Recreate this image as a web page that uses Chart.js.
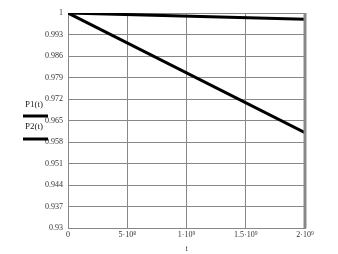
<!DOCTYPE html>
<html>
<head>
<meta charset="utf-8">
<script src="https://cdn.jsdelivr.net/npm/chart.js@4"></script>
<style>
    html, body { margin: 0; padding: 0; background: #fff; }
    #wrap { width: 338px; height: 254px; position: relative; }
</style>
</head>
<body>
<div id="wrap"><canvas id="chart" width="338" height="254"></canvas></div>
<script>
// Data
const tValues = [0, 2e9];
const p1Values = [1, 0.998];
const p2Values = [1, 0.961];
const yTicks = [1, 0.993, 0.986, 0.979, 0.972, 0.965, 0.958, 0.951, 0.944, 0.937, 0.93];
const xTicks = [0, 5e8, 1e9, 1.5e9, 2e9];
const xTickLabels = ['0', '5·10⁸', '1·10⁹', '1.5·10⁹', '2·10⁹'];
const seriesNames = ['P1(t)', 'P2(t)'];

const FONT = 'Liberation Serif';

// Mathcad-style legend on the left plus thick right border
const sideLegend = {
    id: 'sideLegend',
    afterDraw(chart) {
        const ctx = chart.ctx;
        const area = chart.chartArea;
        ctx.save();
        ctx.strokeStyle = '#888';
        ctx.lineWidth = 3;
        ctx.beginPath();
        ctx.moveTo(area.right, area.top);
        ctx.lineTo(area.right, area.bottom);
        ctx.stroke();

        ctx.font = '9px ' + FONT;
        ctx.fillStyle = '#222';
        ctx.textAlign = 'center';
        ctx.textBaseline = 'middle';
        const rows = [[105, 116], [127, 139]];
        seriesNames.forEach((name, i) => {
            ctx.fillText(name, 34, rows[i][0]);
            ctx.strokeStyle = '#000';
            ctx.lineWidth = 3;
            ctx.beginPath();
            ctx.moveTo(23, rows[i][1]);
            ctx.lineTo(48, rows[i][1]);
            ctx.stroke();
        });
        ctx.restore();
    }
};

new Chart(document.getElementById('chart'), {
    type: 'line',
    data: {
        datasets: [
            {
                label: seriesNames[0],
                data: tValues.map((t, i) => ({ x: t, y: p1Values[i] })),
                borderColor: '#000',
                borderWidth: 3,
                pointRadius: 0,
                fill: false
            },
            {
                label: seriesNames[1],
                data: tValues.map((t, i) => ({ x: t, y: p2Values[i] })),
                borderColor: '#000',
                borderWidth: 3,
                pointRadius: 0,
                fill: false
            }
        ]
    },
    options: {
        responsive: false,
        animation: false,
        layout: { padding: { left: 0, top: 13, right: 33, bottom: 0 } },
        plugins: {
            legend: { display: false },
            tooltip: { enabled: false }
        },
        scales: {
            x: {
                type: 'linear',
                min: 0,
                max: 2e9,
                afterBuildTicks: s => { s.ticks = xTicks.map(v => ({ value: v })); },
                afterFit: s => { s.height = 26; },
                ticks: {
                    callback: (v, i) => xTickLabels[i],
                    font: { family: FONT, size: 8 },
                    color: '#333',
                    maxRotation: 0,
                    padding: 2
                },
                grid: { color: '#888', lineWidth: 1, drawTicks: false },
                border: { color: '#888' },
                title: {
                    display: true,
                    text: 't',
                    font: { family: FONT, size: 8 },
                    color: '#333',
                    padding: 0
                }
            },
            y: {
                min: 0.93,
                max: 1,
                afterBuildTicks: s => { s.ticks = yTicks.map(v => ({ value: v })); },
                afterFit: s => { s.width = 68; },
                ticks: {
                    callback: v => String(parseFloat(v.toFixed(3))),
                    font: { family: FONT, size: 8 },
                    color: '#333',
                    padding: 5
                },
                grid: { color: '#888', lineWidth: 1, drawTicks: false },
                border: { color: '#888' }
            }
        }
    },
    plugins: [sideLegend]
});
</script>
</body>
</html>
